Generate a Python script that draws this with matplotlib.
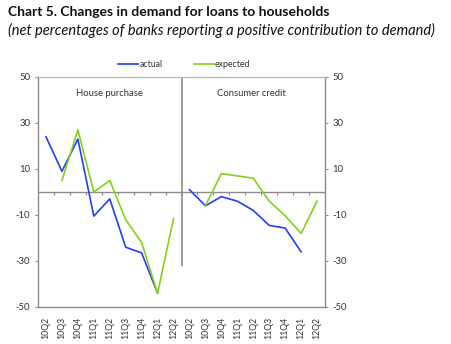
import numpy as np
import matplotlib
matplotlib.use('Agg')
import matplotlib.pyplot as plt
from matplotlib.lines import Line2D

plt.rcParams['font.family'] = ['Lato', 'DejaVu Sans']

quarters = ['10Q2', '10Q3', '10Q4', '11Q1', '11Q2', '11Q3', '11Q4', '12Q1', '12Q2']
panels = ['House purchase', 'Consumer credit']

house_actual = [24, 9, 23, -10.5, -3, -24, -26.5, -44, np.nan]
house_expected = [np.nan, 5, 27, 0, 5, -12, -22, -44, -11.5]
consumer_actual = [1, -6, -2, -4, -8, -14.5, -15.7, -26, np.nan]
consumer_expected = [np.nan, -6, 8, 7, 6, -4, -10.3, -18, -4]

yticks = [50, 30, 10, -10, -30, -50]

BLUE = '#2240f5'
GREEN = '#84d11c'
GRAY = '#8c8c8c'
TXT = '#333333'

fig = plt.figure(figsize=(4.52, 3.44), dpi=100)
ax = fig.add_axes([38 / 452, 1 - 307 / 344, 287 / 452, 230 / 344])

n = len(quarters)
x_left = np.arange(n)
x_right = np.arange(n) + n

ax.plot(x_left, house_actual, color=BLUE, lw=1.2)
ax.plot(x_left, house_expected, color=GREEN, lw=1.2)
ax.plot(x_right, consumer_actual, color=BLUE, lw=1.2)
ax.plot(x_right, consumer_expected, color=GREEN, lw=1.2)

ax.set_xlim(-0.5, 2 * n - 0.5)
ax.set_ylim(-50, 50)

# zero line with small boundary ticks
ax.axhline(0, color=GRAY, lw=1.0, zorder=1)
ax.vlines(np.arange(0.5, 2 * n - 1, 1), -1.4, 0, color=GRAY, lw=0.8, zorder=1)
# panel divider
ax.vlines(n - 0.5, -32, 50, color=GRAY, lw=1.2, zorder=1)

ax.set_xticks(np.arange(2 * n))
ax.set_xticklabels(quarters + quarters, rotation=90, fontsize=6.3, color=TXT)
ax.tick_params(axis='x', length=0, pad=7)

ax.set_yticks(yticks)
ax.set_yticklabels([str(v) for v in yticks], fontsize=6.8, color=TXT)
ax.tick_params(axis='y', left=True, right=True, labelleft=True, labelright=True,
               length=2.5, width=0.8, color=GRAY, pad=3)

for side in ['left', 'right', 'bottom']:
    ax.spines[side].set_color(GRAY)
    ax.spines[side].set_linewidth(1.0)
ax.spines['top'].set_color('#bbbbbb')
ax.spines['top'].set_linestyle((0, (1, 1)))
ax.spines['top'].set_linewidth(1.0)

ax.text(0.25, 0.93, panels[0], transform=ax.transAxes,
        ha='center', va='center', fontsize=6.8, color=TXT)
ax.text(0.745, 0.93, panels[1], transform=ax.transAxes,
        ha='center', va='center', fontsize=6.8, color=TXT)

handles = [Line2D([], [], color=BLUE, lw=1.2), Line2D([], [], color=GREEN, lw=1.2)]
ax.legend(handles, ['actual', 'expected'], loc='center', bbox_to_anchor=(0.51, 1.053),
          ncol=2, frameon=False, fontsize=6.3, handlelength=2.3, handletextpad=0.1,
          columnspacing=3.6, labelcolor=TXT)

fig.text(8 / 452, 1 - 12 / 344, 'Chart 5. Changes in demand for loans to households',
         fontsize=10, fontweight='bold', color='#111111', va='center', ha='left')
fig.text(8 / 452, 1 - 30 / 344,
         '(net percentages of banks reporting a positive contribution to demand)',
         fontsize=10.5, style='italic', color='#111111', va='center', ha='left')

fig.savefig('out.png', dpi=100)
